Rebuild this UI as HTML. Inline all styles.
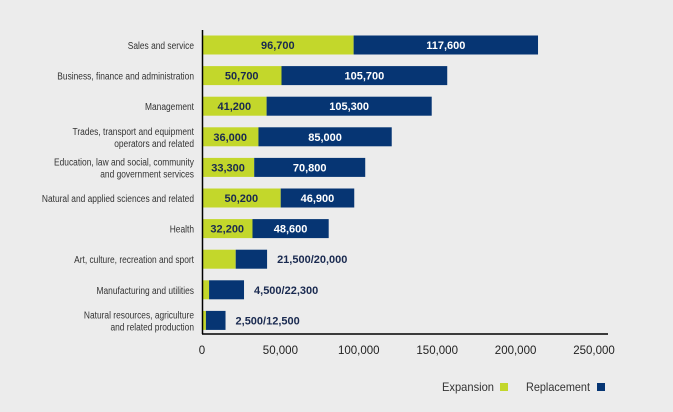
<!DOCTYPE html>
<html><head><meta charset="utf-8"><style>
body{margin:0;background:#ececec;}
svg{display:block;font-family:"Liberation Sans",sans-serif;}
</style></head><body>
<svg width="673" height="412">
<rect width="673" height="412" fill="#ececec"/>
<g id="bars"></g>
<line x1="202.5" y1="30" x2="202.5" y2="334" stroke="#000" stroke-width="1.5"/>
<line x1="202" y1="334" x2="608" y2="334" stroke="#000" stroke-width="1.5"/>
<g id="ticks"></g>
<g font-size="12" fill="#333">
<text x="494" y="391" text-anchor="end" textLength="52" lengthAdjust="spacingAndGlyphs">Expansion</text>
<rect x="500" y="383" width="8" height="8" fill="#c3d72b"/>
<text x="590" y="391" text-anchor="end" textLength="64" lengthAdjust="spacingAndGlyphs">Replacement</text>
<rect x="597" y="383" width="8" height="8" fill="#063573"/>
</g>
</svg>
<script>
const categories=[["Sales and service"],["Business, finance and administration"],["Management"],["Trades, transport and equipment","operators and related"],["Education, law and social, community","and government services"],["Natural and applied sciences and related"],["Health"],["Art, culture, recreation and sport"],["Manufacturing and utilities"],["Natural resources, agriculture","and related production"]];
const expansion=[96700,50700,41200,36000,33300,50200,32200,21500,4500,2500];
const replacement=[117600,105700,105300,85000,70800,46900,48600,20000,22300,12500];
const ticks=[0,50000,100000,150000,200000,250000];
const NS="http://www.w3.org/2000/svg";
const x=v=>202+v*78.4/50000;
const yc=i=>45+i*30.6;
const fmt=v=>v.toLocaleString("en-US");
const g=document.getElementById("bars");
function mk(tag,attrs,parent,text){const e=document.createElementNS(NS,tag);for(const k in attrs)e.setAttribute(k,attrs[k]);if(text!==undefined)e.textContent=text;parent.appendChild(e);return e;}
categories.forEach((c,i)=>{
 const y=yc(i),h=19;
 const lab=mk("text",{"text-anchor":"end","font-size":"10.5",fill:"#333",transform:"translate(194,0) scale(0.8,1)"},g);
 
 
 c.forEach((line,j)=>{mk("tspan",{x:0,y:(c.length==1?y+4:y-2+j*12)},lab,line);});
 const r1=mk("rect",{x:x(0),y:y-h/2,width:x(expansion[i])-x(0),height:h,fill:"#c3d72b"},g);
 
 
 const r2=mk("rect",{x:x(expansion[i]),y:y-h/2,width:x(expansion[i]+replacement[i])-x(expansion[i]),height:h,fill:"#063573"},g);
 
 
 if(expansion[i]>30000){
  const t1=mk("text",{x:(x(0)+x(expansion[i]))/2,y:y+4,"text-anchor":"middle","font-size":"11","font-weight":"bold",fill:"#1a2a50"},g,fmt(expansion[i]));
  
  
  const t2=mk("text",{x:(x(expansion[i])+x(expansion[i]+replacement[i]))/2,y:y+4,"text-anchor":"middle","font-size":"11","font-weight":"bold",fill:"#fff"},g,fmt(replacement[i]));
  
  
 } else {
  const t=mk("text",{x:x(expansion[i]+replacement[i])+10,y:y+4,"font-size":"11","font-weight":"bold",fill:"#1a2a50"},g,fmt(expansion[i])+"/"+fmt(replacement[i]));
  
  
 }
});
const tg=document.getElementById("ticks");
ticks.forEach(v=>{
 const t=mk("text",{x:x(v),y:354,"text-anchor":"middle","font-size":"11.5",fill:"#222"},tg,fmt(v));
 
 
});
</script>
</body></html>
